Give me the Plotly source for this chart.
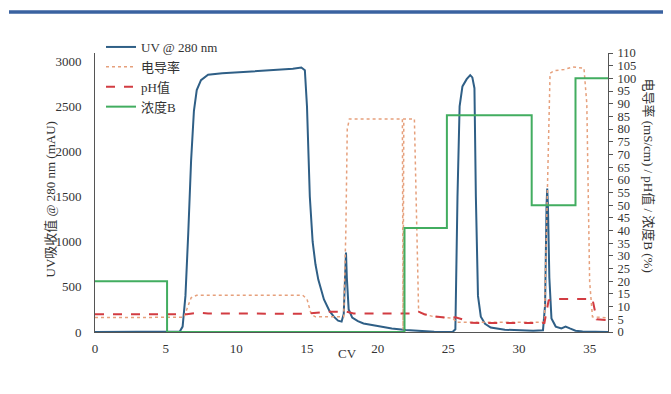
import plotly.graph_objects as go

# ---- data (CV vs value) ----
uv_cv = [0, 5.8, 6.0, 6.2, 6.4, 6.6, 6.8, 7.0, 7.2, 7.5, 8, 9, 10, 11, 12, 13, 14, 14.6, 14.85, 15.0, 15.2, 15.4,
         15.6, 15.8, 16.2, 16.6, 16.9, 17.2, 17.45, 17.6, 17.7, 17.76, 17.82, 17.95, 18.2, 18.6, 19, 20, 21, 22,
         23, 24, 25.3, 25.5, 25.65, 25.8, 26.0, 26.3, 26.55, 26.7, 26.85, 26.95, 27.1, 27.3, 27.6, 28, 29, 31,
         31.7, 31.85, 31.95, 32.0, 32.05, 32.15, 32.3, 32.6, 33.0, 33.3, 33.6, 34, 34.5, 36.3]
uv_mau = [0, 0, 5, 60, 400, 1100, 1900, 2450, 2680, 2790, 2850, 2865, 2875, 2885, 2895, 2905, 2915, 2930, 2900,
          2500, 1500, 1000, 750, 580, 360, 230, 170, 125, 115, 200, 600, 880, 600, 250, 160, 120, 95, 65, 40, 22,
          8, 2, 0, 30, 1500, 2500, 2720, 2800, 2845, 2820, 2700, 1500, 400, 170, 90, 50, 25, 15,
          20, 300, 1400, 1590, 1400, 600, 150, 60, 40, 60, 40, 15, 5, 0]

cond_cv = [0, 6.3, 6.5, 6.8, 7.2, 14.7, 15.0, 15.3, 15.6, 17.6, 17.75, 17.85, 18.0, 21.75, 21.8, 21.85, 22.6,
           22.75, 22.9, 23.3, 24, 25.3, 25.6, 31.8, 32.0, 32.2, 32.5, 33.2, 33.8, 34.6, 34.8, 35.0, 35.2, 36.3]
cond_val = [5.7, 5.8, 9, 13.5, 14.5, 14.5, 13, 7, 6, 6, 40, 80, 84, 84, 1, 84, 84,
            40, 8, 7, 6, 5.5, 3.8, 3.8, 60, 102, 103, 103.5, 104.5, 104, 90, 20, 6, 5.5]

ph_cv = [0, 6.5, 7.3, 8, 15, 16.5, 17.8, 18.3, 22.5, 22.9, 23.3, 24, 25, 25.5, 26, 26.5, 31.8, 32.1, 32.5,
         35.2, 35.5, 36.3]
ph_val = [7.0, 7.0, 7.6, 7.3, 7.2, 8.0, 8.0, 7.3, 7.3, 8.0, 7.0, 6.2, 5.5, 5.8, 5.0, 3.6, 3.5, 12.5, 13.0,
          13.0, 5.0, 4.7]

b_cv = [0, 5.1, 5.1, 21.9, 21.9, 24.9, 24.9, 30.9, 30.9, 34.0, 34.0, 36.3]
b_val = [20, 20, 0, 0, 41, 41, 85.5, 85.5, 50, 50, 100, 100]

x_ticks = [0, 5, 10, 15, 20, 25, 30, 35]
y_ticks = [0, 500, 1000, 1500, 2000, 2500, 3000]
y2_ticks = list(range(0, 111, 5))

FONT = "Liberation Serif, Times New Roman, Noto Sans CJK SC, serif"
TXT = "#333333"

# page offset of the plotly div (default body margin)
OFF = 8
L, R, T, B = 95 - OFF, 608 - OFF, 53 - OFF, 332 - OFF   # plot area in figure px
W, H = 671, 394
PW, PH = R - L, B - T


def px(xp):
    return (xp - OFF - L) / PW


def py(yp):
    return (B - (yp - OFF)) / PH


fig = go.Figure()
fig.add_trace(go.Scatter(x=uv_cv, y=uv_mau, name="UV @ 280 nm", mode="lines",
                         line=dict(color="#2f5f86", width=2)))
fig.add_trace(go.Scatter(x=cond_cv, y=cond_val, name="电导率", mode="lines", yaxis="y2",
                         line=dict(color="#e6a07c", width=1.5, dash="dot")))
fig.add_trace(go.Scatter(x=ph_cv, y=ph_val, name="pH值", mode="lines", yaxis="y2",
                         line=dict(color="#d23c42", width=2, dash="dash")))
fig.add_trace(go.Scatter(x=b_cv, y=b_val, name="浓度B", mode="lines", yaxis="y2",
                         line=dict(color="#42ad60", width=2)))

fig.update_layout(
    width=W, height=H,
    margin=dict(l=L, r=W - R, t=T, b=H - B, autoexpand=False),
    paper_bgcolor="white", plot_bgcolor="white",
    font=dict(family=FONT, size=13, color=TXT),
    showlegend=True,
    legend=dict(x=px(101), y=py(32), xanchor="left", yanchor="top", bgcolor="rgba(0,0,0,0)",
                font=dict(size=13, family=FONT, color=TXT), tracegroupgap=0, itemwidth=30),
    xaxis=dict(range=[0, 36.3], tickvals=x_ticks, showgrid=False, zeroline=False, automargin=False,
               showline=True, linecolor="#555555", linewidth=1, ticks="", ticklabelstandoff=4),
    yaxis=dict(range=[0, 3090], tickvals=y_ticks, showgrid=False, zeroline=False, automargin=False,
               showline=True, linecolor="#555555", linewidth=1, ticks="", ticklabelstandoff=10),
    yaxis2=dict(range=[0, 110], tickvals=y2_ticks, overlaying="y", side="right", showgrid=False,
                zeroline=False, showline=True, linecolor="#555555", linewidth=1, automargin=False,
                ticks="outside", ticklen=4, tickcolor="#555555", ticklabelstandoff=2,
                tickfont=dict(size=12.5)),
    shapes=[dict(type="line", xref="paper", yref="paper",
                 x0=px(9), x1=px(680), y0=py(12), y1=py(12),
                 line=dict(color="#3a62a0", width=3.5))],
    annotations=[
        dict(text="UV吸收值 @ 280 nm (mAU)", xref="paper", yref="paper",
             x=px(40), y=py(200), textangle=-90, showarrow=False,
             font=dict(size=13, family=FONT, color=TXT)),
        dict(text="电导率 (mS/cm) / pH值 / 浓度B (%)", xref="paper", yref="paper",
             x=px(658), y=py(175), textangle=90, showarrow=False,
             font=dict(size=13, family=FONT, color=TXT)),
        dict(text="CV", xref="paper", yref="paper",
             x=px(347), y=py(363), showarrow=False,
             font=dict(size=13, family=FONT, color=TXT)),
    ],
)

fig.write_html("out.html")
